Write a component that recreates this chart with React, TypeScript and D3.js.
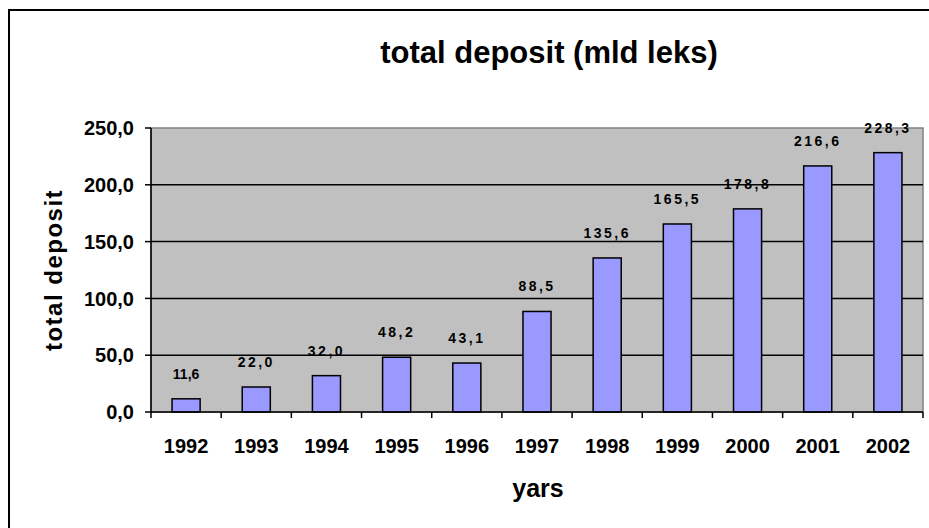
import React, { useEffect, useRef } from "react";
import * as d3 from "d3";

// data
const years = ["1992", "1993", "1994", "1995", "1996", "1997", "1998", "1999", "2000", "2001", "2002"];
const deposits = [11.6, 22.0, 32.0, 48.2, 43.1, 88.5, 135.6, 165.5, 178.8, 216.6, 228.3];
const yTicks = [0, 50, 100, 150, 200, 250];

const fmt = (v: number) => v.toFixed(1).replace(".", ",");

export default function App() {
  const ref = useRef<SVGSVGElement>(null);

  useEffect(() => {
    const svg = d3.select(ref.current);
    svg.selectAll("*").remove();

    const W = 929, H = 528;
    const plot = { left: 151, right: 923, top: 128, bottom: 412 };
    const font = "'Liberation Sans', Arial, sans-serif";

    // outer frame
    svg.append("rect")
      .attr("x", 9).attr("y", 10)
      .attr("width", W).attr("height", H)
      .attr("fill", "#fff").attr("stroke", "#000").attr("stroke-width", 2);

    const x = d3.scaleBand().domain(years).range([plot.left, plot.right]).paddingInner(0.6).paddingOuter(0.3);
    const band = d3.scaleBand().domain(years).range([plot.left, plot.right]);
    const y = d3.scaleLinear().domain([0, 250]).range([plot.bottom, plot.top]);

    // plot area
    svg.append("rect")
      .attr("x", plot.left).attr("y", plot.top)
      .attr("width", plot.right - plot.left).attr("height", plot.bottom - plot.top)
      .attr("fill", "#c0c0c0").attr("stroke", "#808080").attr("stroke-width", 1.5);

    // gridlines
    svg.append("g").selectAll("line")
      .data(yTicks.filter(t => t > 0 && t < 250))
      .enter().append("line")
      .attr("x1", plot.left).attr("x2", plot.right)
      .attr("y1", d => y(d)).attr("y2", d => y(d))
      .attr("stroke", "#000").attr("stroke-width", 1.5);

    // bars
    svg.append("g").selectAll("rect")
      .data(deposits)
      .enter().append("rect")
      .attr("x", (d, i) => x(years[i])!)
      .attr("y", d => y(d))
      .attr("width", x.bandwidth())
      .attr("height", d => y(0) - y(d))
      .attr("fill", "#9999ff").attr("stroke", "#000").attr("stroke-width", 1.5);

    // value labels
    svg.append("g").selectAll("text")
      .data(deposits)
      .enter().append("text")
      .attr("x", (d, i) => x(years[i])! + x.bandwidth() / 2)
      .attr("y", d => y(d) - 20)
      .attr("text-anchor", "middle")
      .attr("font-family", font).attr("font-weight", "bold").attr("font-size", 14)
      .attr("letter-spacing", (d, i) => (i === 0 ? 0 : 2.5))
      .text(d => fmt(d));

    // y axis
    svg.append("line")
      .attr("x1", plot.left).attr("x2", plot.left)
      .attr("y1", plot.top).attr("y2", plot.bottom)
      .attr("stroke", "#000").attr("stroke-width", 1.5);
    const yg = svg.append("g");
    yg.selectAll("line").data(yTicks).enter().append("line")
      .attr("x1", plot.left - 6).attr("x2", plot.left)
      .attr("y1", d => y(d)).attr("y2", d => y(d))
      .attr("stroke", "#000").attr("stroke-width", 1.5);
    yg.selectAll("text").data(yTicks).enter().append("text")
      .attr("x", 134).attr("y", d => y(d)).attr("dy", "0.36em")
      .attr("text-anchor", "end")
      .attr("font-family", font).attr("font-weight", "bold").attr("font-size", 20)
      .text(d => fmt(d));

    // x axis
    svg.append("line")
      .attr("x1", plot.left).attr("x2", plot.right)
      .attr("y1", plot.bottom).attr("y2", plot.bottom)
      .attr("stroke", "#000").attr("stroke-width", 1.5);
    const xg = svg.append("g");
    xg.selectAll("line").data([...years.map(yr => band(yr)!), plot.right]).enter().append("line")
      .attr("x1", d => d).attr("x2", d => d)
      .attr("y1", plot.bottom).attr("y2", plot.bottom + 6)
      .attr("stroke", "#000").attr("stroke-width", 1.5);
    xg.selectAll("text").data(years).enter().append("text")
      .attr("x", d => band(d)! + band.bandwidth() / 2).attr("y", 453)
      .attr("text-anchor", "middle")
      .attr("font-family", font).attr("font-weight", "bold").attr("font-size", 20)
      .text(d => d);

    // titles
    svg.append("text")
      .attr("x", 549).attr("y", 63).attr("text-anchor", "middle")
      .attr("font-family", font).attr("font-weight", "bold").attr("font-size", 31)
      .text("total deposit (mld leks)");
    svg.append("text")
      .attr("x", 538).attr("y", 497).attr("text-anchor", "middle")
      .attr("font-family", font).attr("font-weight", "bold").attr("font-size", 25)
      .text("yars");
    svg.append("text")
      .attr("transform", "translate(62,270) rotate(-90)")
      .attr("text-anchor", "middle")
      .attr("font-family", font).attr("font-weight", "bold").attr("font-size", 24)
      .attr("letter-spacing", 1.5)
      .text("total deposit");
  }, []);

  return (
    <svg ref={ref} width={929} height={528}
      style={{ position: "absolute", left: 0, top: 0, display: "block" }} />
  );
}
